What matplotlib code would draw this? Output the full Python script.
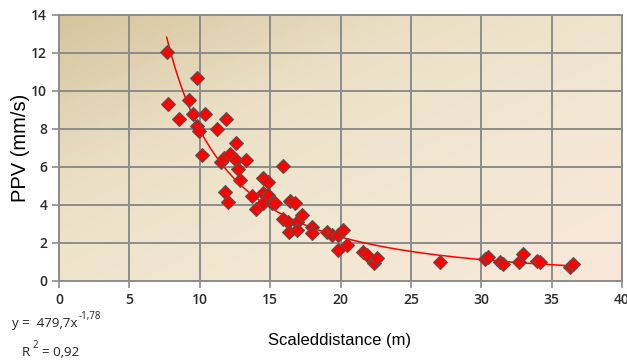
import numpy as np
import matplotlib
matplotlib.use("Agg")
import matplotlib.pyplot as plt
from matplotlib.colors import LinearSegmentedColormap

# --------------------------------------------------------
# DATA
# --------------------------------------------------------
scaled_distance = [
    7.65, 7.77, 8.53, 9.83, 9.26, 9.55, 10.4, 9.78, 9.97, 10.14,
    11.25, 11.87, 12.58, 11.49, 11.73, 12.15, 12.56, 13.27, 12.74, 12.86,
    11.8, 12.03, 13.69, 14.0, 14.52, 14.88, 14.52, 14.88, 14.52, 15.11,
    15.35, 15.9, 15.94, 16.3, 16.35, 16.42, 16.77, 16.89, 16.89, 17.25,
    17.96, 17.96, 19.03, 19.38, 19.85, 20.16, 20.44, 19.85, 21.63, 21.87,
    22.39, 22.62, 27.08, 30.28, 30.51, 31.34, 31.58, 32.65, 32.96, 33.95,
    34.19, 36.27, 36.55,
]
ppv = [
    12.07, 9.3, 8.53, 10.68, 9.54, 8.79, 8.79, 8.18, 7.9, 6.63,
    8.02, 8.53, 7.25, 6.28, 6.46, 6.67, 6.37, 6.37, 5.89, 5.32,
    4.7, 4.17, 4.47, 3.79, 5.4, 5.23, 4.61, 4.53, 4.09, 4.09,
    4.09, 6.05, 3.26, 3.12, 2.6, 4.21, 4.09, 3.12, 2.68, 3.47,
    2.86, 2.54, 2.6, 2.42, 2.42, 2.68, 1.89, 1.63, 1.51, 1.37,
    0.93, 1.19, 1.02, 1.16, 1.28, 1.02, 0.88, 1.02, 1.42, 1.05,
    0.98, 0.75, 0.89,
]

# power trendline as printed on the chart: y = 479,7 x^-1,78
FIT_A = 479.7
FIT_B = -1.78

# --------------------------------------------------------
# PLOT
# --------------------------------------------------------
fig = plt.figure(figsize=(6.27, 3.64), dpi=100)
ax = fig.add_axes([59 / 627, 1 - 281 / 364, 563 / 627, 266 / 364])
ax.set_xlim(0, 40)
ax.set_ylim(0, 14)

# gradient background (tan top-left -> light peach bottom-right)
cmap = LinearSegmentedColormap.from_list(
    "bg", ["#d6c59e", "#ebe0c6", "#f2e8d3", "#f9e7d9"])
gx, gy = np.meshgrid(np.linspace(0, 1, 200), np.linspace(0, 1, 200))
grad = (gx + gy) / 2
ax.imshow(grad, extent=[0, 40, 0, 14], origin="upper", aspect="auto",
          cmap=cmap, zorder=0, interpolation="bicubic")

ax.set_xticks(range(0, 41, 5))
ax.set_yticks(range(0, 15, 2))
ax.grid(True, color="#8c8c8c", linewidth=1.4, zorder=1)
for s in ax.spines.values():
    s.set_color("#8c8c8c")
    s.set_linewidth(1.4)
ax.tick_params(colors="#8c8c8c", length=5, width=1.2, labelcolor="#2a2a2a",
               labelsize=10)
for lab in ax.get_xticklabels() + ax.get_yticklabels():
    lab.set_fontfamily("Open Sans")
    lab.set_fontweight("semibold")

# trendline
xf = np.linspace(min(scaled_distance), max(scaled_distance), 200)
ax.plot(xf, FIT_A * xf ** FIT_B, color="#ff0000", linewidth=1.1, zorder=2)

# data points
ax.plot(scaled_distance, ppv, linestyle="none", marker="D", markersize=7,
        markerfacecolor="#ff0000", markeredgecolor="#555555",
        markeredgewidth=0.8, zorder=3)

ax.set_ylabel("PPV (mm/s)", fontsize=14.5, family="Liberation Sans")
ax.yaxis.set_label_coords(-(59 - 30) / 563, 0.5)
fig.text(340 / 627, 1 - 341 / 364, "Scaleddistance (m)", fontsize=12,
         family="Liberation Sans", ha="center", va="center")

# trendline equation, bottom-left
eq_kw = dict(family="Open Sans", color="#222222", va="center", ha="left")
fig.text(12 / 627, 1 - 324 / 364, "y =  479,7x", fontsize=9.5, **eq_kw)
fig.text(79 / 627, 1 - 317 / 364, "-1,78", fontsize=7, **eq_kw)
fig.text(22 / 627, 1 - 352 / 364, "R", fontsize=9.5, **eq_kw)
fig.text(33 / 627, 1 - 345 / 364, "2", fontsize=7, **eq_kw)
fig.text(42 / 627, 1 - 352 / 364, "= 0,92", fontsize=9.5, **eq_kw)

fig.savefig("out.png", dpi=100)
